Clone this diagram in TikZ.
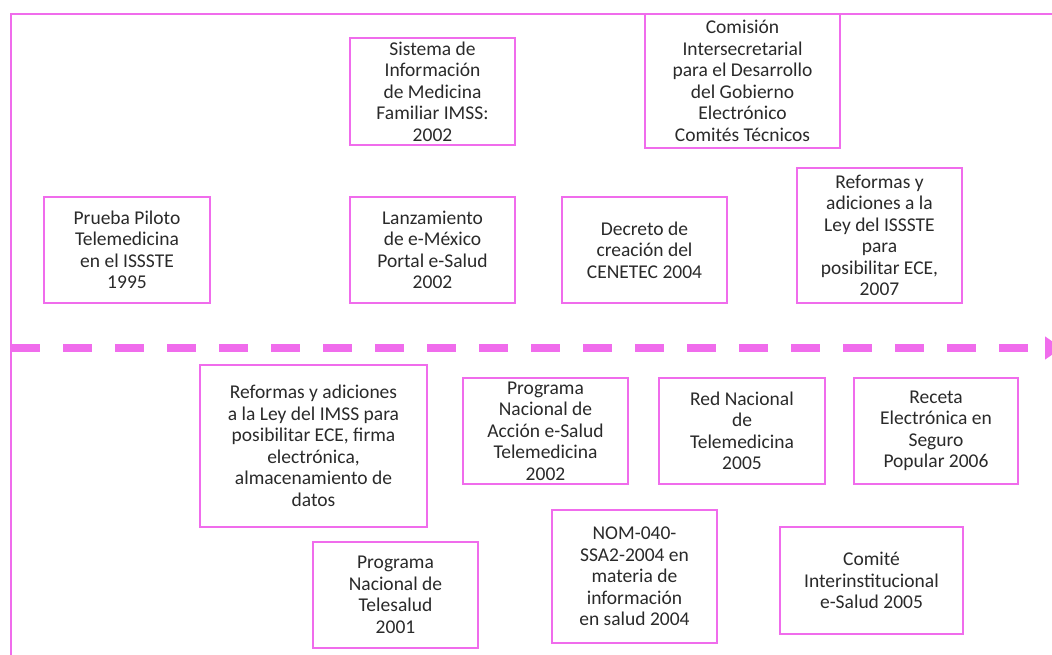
\documentclass[tikz,border=0pt]{standalone}
\usepackage{fontspec}
\setmainfont{Carlito}
\usepackage{xcolor}
\usepackage{tikz}
\usetikzlibrary{calc}
\usetikzlibrary{arrows.meta}
\definecolor{rosa}{RGB}{240,108,236}
\definecolor{gristexto}{RGB}{42,42,42}
\tikzset{hito/.style={draw=rosa, line width=2.8pt, align=center, text=gristexto, inner sep=0pt, font=\fontsize{19.5}{21.5}\selectfont}}

\begin{document}
\begin{tikzpicture} [x=1pt,y=-1pt]
\useasboundingbox (0,0) rectangle (1052,655);
\fill[white] (0,0) rectangle (1052,655);
% marco y eje del tiempo
\coordinate (esq) at (11,14);
\coordinate (arr) at (1052,14);
\coordinate (aba) at (11,655);
\coordinate (ejeIni) at (11,348);
\coordinate (ejeFin) at (1062,348);
\draw[rosa, line width=2.8pt] (arr) -- (esq) -- (aba);
\draw[rosa, line width=7.5pt, dash pattern=on 29pt off 23pt, -{Triangle[length=17pt,width=22pt]}] (ejeIni) -- (ejeFin);

% arriba del eje
\node[hito, minimum width=166, minimum height=106] (piloto) at (127,250) {Prueba Piloto\\Telemedicina\\en el ISSSTE\\1995};
\node[hito, minimum width=165, minimum height=107] (sisinfo) at (432.5,91.5) {Sistema de\\Información\\de Medicina\\Familiar IMSS:\\2002};
\node[hito, minimum width=165, minimum height=106] (emexico) at (432.5,250) {Lanzamiento\\de e-México\\Portal e-Salud\\2002};
\node[hito, minimum width=165, minimum height=106] (cenetec) at (644.5,250) {Decreto de\\creación del\\CENETEC 2004};
\node[hito, minimum width=195, minimum height=134] (comision) at (742.5,81) {Comisión\\Intersecretarial\\para el Desarrollo\\del Gobierno\\Electrónico\\Comités Técnicos};
\node[hito, minimum width=165, minimum height=135] (leyissste) at (879.5,235.5) {Reformas y\\adiciones a la\\Ley del ISSSTE\\para\\posibilitar ECE,\\2007};

% abajo del eje
\node[hito, minimum width=227, minimum height=162] (leyimss) at (313.5,446) {Reformas y adiciones\\a la Ley del IMSS para\\posibilitar ECE, firma\\electrónica,\\almacenamiento de\\datos};
\node[hito, minimum width=165, minimum height=106] (telesalud) at (395.5,595) {Programa\\Nacional de\\Telesalud\\2001};
\node[hito, minimum width=165, minimum height=106] (accion) at (545.5,431) {Programa\\Nacional de\\Acción e-Salud\\Telemedicina\\2002};
\node[hito, minimum width=166, minimum height=106] (rednal) at (742,431) {Red Nacional\\de\\Telemedicina\\2005};
\node[hito, minimum width=164, minimum height=106] (receta) at (936,431) {Receta\\Electrónica en\\Seguro\\Popular 2006};
\node[hito, minimum width=165, minimum height=133] (nom) at (634.5,576.5) {NOM-040-\\SSA2-2004 en\\materia de\\información\\en salud 2004};
\node[hito, minimum width=183, minimum height=107] (comite) at (871.5,580.5) {Comité\\Interinstitucional\\e-Salud 2005};
\end{tikzpicture}
\end{document}
